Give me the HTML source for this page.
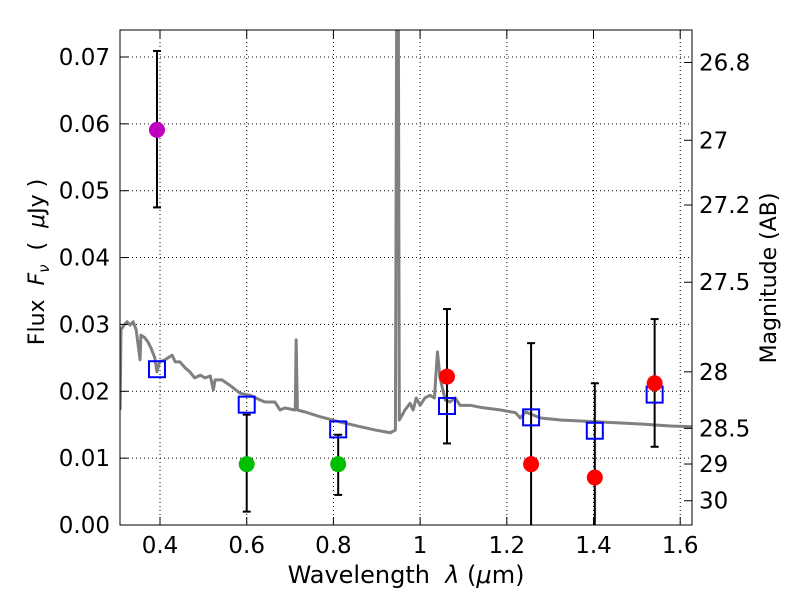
<!DOCTYPE html>
<html><head><meta charset="utf-8"><style>
body{margin:0;background:#fff;}
svg text{font-family:"DejaVu Sans","Liberation Sans",sans-serif;white-space:pre;}
</style></head><body>
<svg id="chart" width="800" height="600" xmlns="http://www.w3.org/2000/svg">
<defs><clipPath id="clip"><rect x="120" y="30" width="572" height="495"/></clipPath></defs>
<g id="grid"></g>
<g id="spec" clip-path="url(#clip)"></g>
<g id="marks" clip-path="url(#clip)"></g>
<rect x="120" y="30" width="572" height="495" fill="none" stroke="#000" stroke-width="1"/>
<g id="axes"></g>
<text x="406" y="583" font-size="24" text-anchor="middle">Wavelength  <tspan font-style="italic">λ</tspan> (<tspan font-style="italic">μ</tspan>m)</text>
<text transform="translate(44,262) rotate(-90)" font-size="22" text-anchor="middle">Flux  <tspan font-style="italic">F</tspan><tspan font-style="italic" font-size="15" dy="5">ν</tspan><tspan dy="-5">  (  </tspan><tspan font-style="italic">μ</tspan>Jy )</text>
<text transform="translate(776,278) rotate(-90)" font-size="22" text-anchor="middle">Magnitude (AB)</text>
</svg>
<script>
const xTicks=[0.4,0.6,0.8,1.0,1.2,1.4,1.6];
const xTickLabels=["0.4","0.6","0.8","1","1.2","1.4","1.6"];
const yTicks=[0,0.01,0.02,0.03,0.04,0.05,0.06,0.07];
const yTickLabels=["0.00","0.01","0.02","0.03","0.04","0.05","0.06","0.07"];
const magTicks=[26.8,27,27.2,27.5,28,28.5,29,30];
const magTickLabels=["26.8","27","27.2","27.5","28","28.5","29","30"];
const specWave=[.308,.310,.317,.324,.331,.338,.345,.354,.356,.365,.372,.379,.388,.393,.399,.411,.428,.435,.446,.458,.469,.480,.493,.504,.516,.523,.527,.543,.561,.585,.608,.631,.642,.665,.677,.688,.712,.714,.717,.735,.769,.816,.862,.897,.931,.943,.947,.949,.952,.959,.965,.977,.984,.991,1.000,1.011,1.023,1.033,1.040,1.046,1.058,1.069,1.081,1.092,1.116,1.139,1.186,1.220,1.231,1.243,1.278,1.324,1.416,1.509,1.578,1.629];
const specFlux=[.0172,.0292,.0299,.0304,.0299,.0304,.0292,.0247,.0284,.0280,.0274,.0265,.0250,.0229,.0244,.0247,.0254,.0244,.0244,.0235,.0229,.0220,.0224,.0220,.0223,.0202,.0217,.0217,.0209,.0197,.0194,.0187,.0184,.0184,.0172,.0175,.0172,.0277,.0172,.0169,.0162,.0154,.0147,.0142,.0138,.0142,.1,.1,.0157,.0165,.0172,.0182,.0172,.0190,.0179,.0190,.0194,.0190,.0259,.0220,.0187,.0184,.0190,.0179,.0179,.0176,.0172,.0168,.0160,.0169,.0160,.0157,.0154,.0151,.0148,.0147];
const ptWave=[0.393,0.600,0.811,1.062,1.256,1.403,1.541];
const ptFlux=[0.0591,0.0091,0.0091,0.0222,0.0091,0.0071,0.0212];
const ptLo=[0.0475,0.0020,0.0045,0.0122,-0.001,-0.002,0.0117];
const ptHi=[0.0709,0.0165,0.0135,0.0323,0.0272,0.0212,0.0308];
const ptColor=["#bf00bf","#00bf00","#00bf00","#ff0000","#ff0000","#ff0000","#ff0000"];
const modelFlux=[0.0233,0.0180,0.0143,0.0178,0.0161,0.0141,0.0195];
const NS="http://www.w3.org/2000/svg";
const X=v=>120+(v-0.3077)*433.5;
const Y=v=>525-v*6686;
const magToFlux=m=>Math.pow(10,(23.9-m)/2.5);
function mk(p,t,a){const e=document.createElementNS(NS,t);for(const k in a)e.setAttribute(k,a[k]);p.appendChild(e);return e;}
const grid=document.getElementById('grid'),axes=document.getElementById('axes'),spec=document.getElementById('spec'),marks=document.getElementById('marks');
xTicks.forEach((t,i)=>{const x=X(t);
 const g=mk(grid,'line',{x1:x,x2:x,y1:30,y2:525,stroke:'#000','stroke-dasharray':'1,3','stroke-width':1});
 
 mk(axes,'line',{x1:x,x2:x,y1:525,y2:517,stroke:'#000'});mk(axes,'line',{x1:x,x2:x,y1:30,y2:38,stroke:'#000'});
 const tx=mk(axes,'text',{x:x,y:553,'font-size':23,'text-anchor':'middle'});tx.textContent=xTickLabels[i];
 });
yTicks.forEach((t,i)=>{const y=Y(t);
 const g=mk(grid,'line',{x1:120,x2:692,y1:y,y2:y,stroke:'#000','stroke-dasharray':'1,3','stroke-width':1});
 
 mk(axes,'line',{x1:120,x2:128,y1:y,y2:y,stroke:'#000'});
 const tx=mk(axes,'text',{x:110,y:y+8,'font-size':23,'text-anchor':'end'});tx.textContent=yTickLabels[i];
 });
magTicks.forEach((m,i)=>{const y=Y(magToFlux(m));
 mk(axes,'line',{x1:684,x2:692,y1:y,y2:y,stroke:'#000'});
 const tx=mk(axes,'text',{x:699,y:y+8,'font-size':23});tx.textContent=magTickLabels[i];
 });
const pl=mk(spec,'polyline',{points:specWave.map((w,i)=>X(w)+','+Y(specFlux[i])).join(' '),fill:'none',stroke:'#808080','stroke-width':3,'stroke-linejoin':'round'});

ptWave.forEach((w,i)=>{const x=X(w);
 const e=mk(marks,'line',{x1:x,x2:x,y1:Y(ptLo[i]),y2:Y(ptHi[i]),stroke:'#000','stroke-width':2});
 
 mk(marks,'line',{x1:x-4,x2:x+4,y1:Y(ptLo[i]),y2:Y(ptLo[i]),stroke:'#000','stroke-width':2});
 mk(marks,'line',{x1:x-4,x2:x+4,y1:Y(ptHi[i]),y2:Y(ptHi[i]),stroke:'#000','stroke-width':2});
});
ptWave.forEach((w,i)=>{const x=X(w);
 const s=mk(marks,'rect',{x:x-8,y:Y(modelFlux[i])-8,width:16,height:16,fill:'none',stroke:'#0000ff','stroke-width':2});
 
 const c=mk(marks,'circle',{cx:x,cy:Y(ptFlux[i]),r:8,fill:ptColor[i]});
 
});
</script>
</body></html>
